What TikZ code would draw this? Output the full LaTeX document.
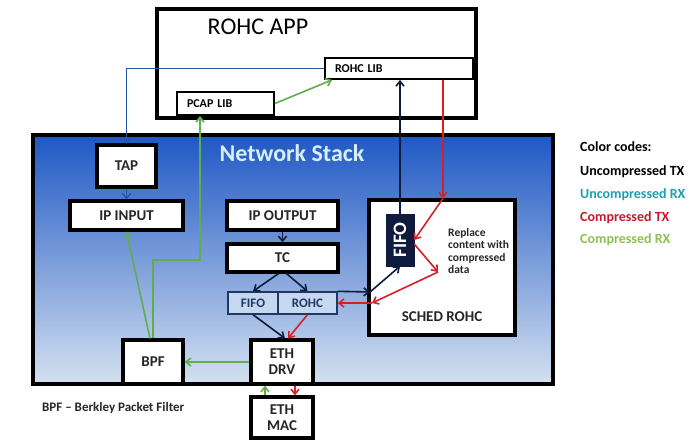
\documentclass[tikz,border=0pt]{standalone}
\usepackage{fontspec}
\setmainfont{Carlito}
\usetikzlibrary{arrows.meta}

\definecolor{navy}{HTML}{0E1B3D}
\definecolor{rxblue}{HTML}{2455A4}
\definecolor{txred}{HTML}{D42028}
\definecolor{rxgreen}{HTML}{5EAE4E}
\definecolor{stacktop}{HTML}{1F58C4}
\definecolor{stackmid}{HTML}{6D9ADA}
\definecolor{stackbot}{HTML}{D4E0F0}
\definecolor{qfill}{HTML}{C6D8F0}
\definecolor{qline}{HTML}{1F3864}
\definecolor{titleblue}{HTML}{D8EEFB}
\definecolor{legteal}{HTML}{1E9EB2}
\definecolor{legred}{HTML}{C41A2C}
\definecolor{leggreen}{HTML}{8CC052}

\tikzset{
  blk/.style={draw, line width=3.2pt, fill=white, inner sep=0pt, align=center, text=black!85,
    font=\fontsize{15}{16}\selectfont\bfseries},
  lib/.style={draw, line width=1.8pt, fill=white, inner sep=0pt, inner xsep=10pt, align=left,
    font=\fontsize{12}{13}\selectfont\bfseries},
  queue/.style={draw=qline, line width=1.4pt, fill=qfill, inner sep=0pt, text=qline,
    font=\fontsize{13}{14}\selectfont\bfseries},
  utx/.style={->, navy, line width=1.6pt},
  urx/.style={->, rxblue, line width=1.3pt},
  ctx/.style={->, txred, line width=1.6pt},
  crx/.style={->, rxgreen, line width=1.6pt},
  legend/.style={anchor=west, inner sep=0pt, font=\fontsize{14}{15}\selectfont\bfseries}
}

\begin{document}
\begin{tikzpicture}[x=1pt, y=-1pt, >={Straight Barb[length=5pt,width=8pt]}]
\useasboundingbox (0,0) rectangle (694,442);

    % ROHC application
    \node[draw, line width=3.4pt, minimum width=319pt, minimum height=109pt] (rohcapp) at (316.5,63.5) {};
    \node[font=\fontsize{24}{26}\selectfont] (apptitle) at (258,27) {ROHC APP};
    \node[lib, text width=128pt, minimum height=21pt] (rohclib) at (399,68.5) {ROHC LIB};
    \node[lib, text width=77pt, minimum height=23pt] (pcaplib) at (225.5,103.5) {PCAP LIB};

    % Network stack
    \node[draw, line width=3.2pt, top color=stacktop, middle color=stackmid, bottom color=stackbot,
      minimum width=520pt, minimum height=249pt] (netstack) at (293,259.5) {};
    \node[text=titleblue, font=\fontsize{24}{26}\selectfont\bfseries] (stacktitle) at (292,153) {Network Stack};

    \node[blk, minimum width=59pt, minimum height=42pt] (tap) at (126.5,166) {TAP};
    \node[blk, minimum width=113pt, minimum height=29pt] (ipin) at (126.5,215.5) {IP INPUT};
    \node[blk, minimum width=111pt, minimum height=29pt] (ipout) at (282.5,215.5) {IP OUTPUT};
    \node[blk, minimum width=111pt, minimum height=28pt] (tc) at (282.5,258) {TC};
    \node[queue, minimum width=50pt, minimum height=22pt] (fifo) at (253,303) {FIFO};
    \node[queue, minimum width=59pt, minimum height=22pt] (rohc) at (307.5,303) {ROHC};
    \node[blk, minimum width=62pt, minimum height=44pt] (ethdrv) at (282,362) {ETH\\DRV};
    \node[blk, minimum width=62pt, minimum height=41pt] (ethmac) at (282,417.5) {ETH\\MAC};
    \node[blk, minimum width=60pt, minimum height=44pt] (bpf) at (153,362) {BPF};

    % scheduler
    \node[blk, minimum width=146pt, minimum height=135pt] (sched) at (442,267.5) {};
    \node[text=black!85, font=\fontsize{15}{16}\selectfont\bfseries] (schedtxt) at (442,317) {SCHED ROHC};
    \node[draw=navy, fill=navy, minimum width=28pt, minimum height=52pt, inner sep=0pt, text=white,
      font=\fontsize{19}{20}\selectfont\bfseries] (schedfifo) at (400,240) {\rotatebox{90}{FIFO}};
    \node[anchor=north west, align=left, inner sep=0pt, text=black!85,
      font=\fontsize{11.5}{12.5}\selectfont\bfseries] (note) at (448,228) {Replace\\content with\\compressed\\data};

    \coordinate (sout) at (370,292);
    \coordinate (sin) at (372,303);
    \coordinate (rep) at (438,272);
    \coordinate (gbend) at (200,260);

    % uncompressed RX
    \draw[urx] (rohclib.west) -| (tap.north);
    \draw[urx] (tap.south) -- (ipin.north);

    % uncompressed TX
    \draw[utx] (ipout.south) -- (tc.north);
    \draw[utx] ([xshift=-4pt]tc.south) -- (fifo.north);
    \draw[utx] ([xshift=4pt]tc.south) -- (rohc.north);
    \draw[utx] (fifo.south) -- ([xshift=3pt]ethdrv.north);
    \draw[utx] (rohc.north east) -- (sout);
    \draw[utx] (sout) -- (schedfifo.south);
    \draw[utx] (schedfifo.north) -- (schedfifo.north |- rohclib.south);

    % compressed TX
    \draw[ctx] ([xshift=1pt]sched.north |- rohclib.south) -- ([xshift=1pt]sched.north);
    \draw[ctx] ([xshift=1pt]sched.north) -- (schedfifo.east);
    \draw[ctx] ([yshift=-4pt]schedfifo.east) -- (rep);
    \draw[ctx] (rep) -- (sin);
    \draw[ctx] (sin) -- (rohc.east);
    \draw[ctx] (rohc.south) -- ([xshift=6pt]ethdrv.north);
    \draw[ctx] ([xshift=13pt]ethdrv.south) -- ([xshift=13pt]ethmac.north);

    % compressed RX
    \draw[crx] ([xshift=-17pt]ethmac.north) -- ([xshift=-17pt]ethdrv.south);
    \draw[crx] (ethdrv.west) -- (bpf.east);
    \draw[crx] ([xshift=-3pt]bpf.north) -- (ipin.south);
    \draw[crx] (bpf.north) |- (gbend) -- (gbend |- pcaplib.south);
    \draw[crx] (pcaplib.east) -- ([xshift=8pt]rohclib.south west);

    % notes
    \node[anchor=west, inner sep=0pt, text=black!85, font=\fontsize{13}{14}\selectfont\bfseries] (bpfnote) at (42,408) {BPF -- Berkley Packet Filter};
    \node[legend] (legtitle) at (580,147) {Color codes:};
    \node[legend] (legutx) at (580,172) {Uncompressed TX};
    \node[legend, text=legteal] (legurx) at (580,195) {Uncompressed RX};
    \node[legend, text=legred] (legctx) at (580,218) {Compressed TX};
    \node[legend, text=leggreen] (legcrx) at (580,240) {Compressed RX};

\end{tikzpicture}
\end{document}
